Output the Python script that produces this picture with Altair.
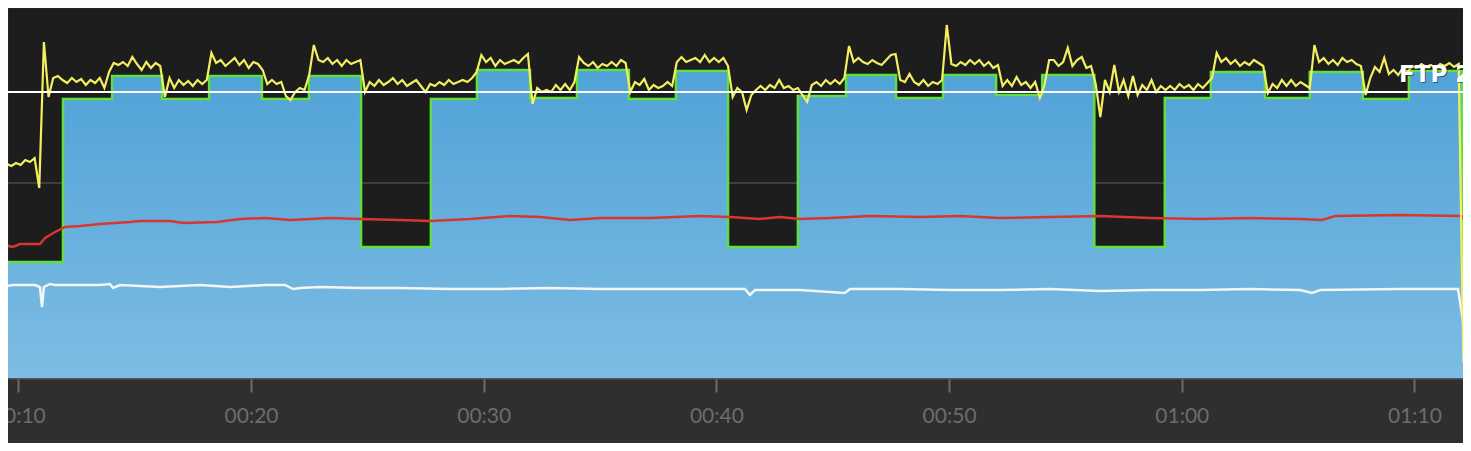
import altair as alt
import numpy as np
import pandas as pd

# ---------------- data ----------------
x_ticks = [10, 20, 30, 40, 50, 60, 70]          # minutes
x_domain = [9.557, 72.085]
y_domain = [0, 370]

ftp = 286
grid_level = 195

# workout target steps: start minute, target watts
step_start = [9.5, 11.92, 14.03, 16.18, 18.20, 20.47, 22.49, 24.73, 27.73, 29.71,
              31.99, 34.01, 36.24, 38.26, 40.50, 43.50, 45.57, 47.72, 49.74, 52.02,
              54.00, 56.24, 59.27, 61.25, 63.57, 65.50, 67.78, 69.76, 72.04, 72.6]
step_watts = [116, 279, 302, 279, 302, 279, 302, 131, 279, 308,
              280, 308, 279, 307, 131, 282, 303, 280, 303, 283,
              303, 131, 280, 306, 280, 306, 279, 307, 113, 113]

# recorded power, one sample every 0.2 min starting at 9.5 min
power_start = 9.5
power_interval = 0.2
power_watts = [
    214, 212, 215, 213, 218, 216, 220, 190, 336, 281,
    300, 302, 298, 295, 300, 296, 299, 293, 298, 295,
    300, 290, 306, 315, 313, 316, 312, 321, 314, 308,
    316, 310, 315, 312, 281, 300, 290, 298, 293, 297,
    292, 298, 294, 298, 325, 315, 318, 312, 316, 320,
    313, 318, 310, 316, 314, 308, 294, 298, 294, 296,
    282, 278, 286, 290, 288, 303, 333, 318, 316, 320,
    314, 318, 312, 318, 314, 316, 318, 286, 296, 292,
    298, 293, 296, 300, 294, 298, 292, 295, 298, 292,
    286, 294, 292, 296, 293, 298, 294, 296, 298, 296,
    300, 306, 323, 316, 320, 312, 318, 314, 316, 318,
    315, 320, 324, 274, 290, 286, 288, 286, 293, 288,
    294, 288, 296, 321, 315, 312, 316, 310, 314, 312,
    316, 312, 318, 315, 286, 296, 293, 299, 288, 293,
    290, 292, 296, 292, 316, 321, 316, 318, 320, 316,
    323, 316, 320, 316, 320, 312, 281, 290, 286, 268,
    283, 288, 292, 288, 293, 290, 298, 290, 292, 288,
    290, 283, 276, 293, 296, 292, 298, 294, 298, 294,
    300, 332, 316, 320, 316, 314, 318, 315, 313, 318,
    323, 324, 298, 296, 304, 296, 293, 298, 292, 296,
    294, 298, 353, 314, 312, 316, 313, 318, 314, 318,
    312, 316, 310, 313, 292, 298, 292, 301, 293, 296,
    290, 296, 280, 293, 318, 318, 312, 316, 330, 312,
    318, 321, 310, 312, 294, 261, 298, 286, 313, 286,
    298, 282, 302, 283, 293, 288, 298, 286, 292, 288,
    292, 288, 294, 290, 293, 288, 294, 290, 295, 300,
    325, 316, 320, 314, 318, 312, 316, 313, 318, 315,
    312, 285, 294, 290, 298, 292, 298, 292, 296, 293,
    290, 333, 316, 320, 314, 318, 313, 320, 316, 318,
    314, 312, 283, 300, 311, 306, 320, 304, 308, 303,
    310, 306, 312, 310, 314, 311, 313, 310, 314, 312,
    315, 311, 314, 16, 13, 15,
]

# heart rate
hr_t = [9.21, 9.77, 10.07, 10.93, 11.15, 11.58, 12.01, 12.65, 13.51, 14.80,
        15.23, 16.52, 17.08, 18.54, 19.53, 20.60, 21.68, 23.39, 24.68, 26.40,
        27.69, 29.41, 31.13, 32.42, 33.71, 35.00, 37.15, 39.29, 40.58, 41.87,
        42.73, 43.59, 44.88, 46.60, 48.75, 50.47, 52.19, 54.34, 56.49, 58.64,
        60.79, 62.94, 65.09, 66.03, 66.59, 69.38, 72.04, 72.43]
hr_bpm = [134, 131, 134, 134, 140, 146, 151, 152, 154, 156,
          157, 157, 155, 156, 159, 160, 158, 160, 159, 158,
          157, 159, 162, 161, 158, 160, 160, 162, 161, 159,
          161, 159, 160, 162, 161, 162, 160, 161, 162, 160,
          159, 160, 159, 158, 162, 163, 162, 147]

# cadence
cad_t = [9.21, 9.77, 10.72, 10.93, 11.02, 11.10, 11.36, 11.58, 12.65, 13.51,
         13.94, 14.07, 14.37, 16.09, 17.81, 19.10, 20.60, 21.46, 21.81, 22.11,
         22.96, 24.68, 26.40, 28.55, 30.70, 32.85, 35.00, 37.15, 39.29, 41.23,
         41.44, 41.66, 43.59, 45.52, 45.74, 47.89, 50.04, 52.19, 54.34, 56.49,
         58.64, 60.79, 62.94, 65.09, 65.60, 65.95, 69.38, 71.87, 72.08, 72.21,
         72.43]
cad_rpm = [91, 93, 93, 91, 71, 91, 94, 93, 93, 93,
           94, 90, 93, 91, 93, 91, 93, 93, 89, 90,
           91, 90, 90, 89, 89, 90, 89, 89, 89, 89,
           83, 88, 88, 85, 89, 89, 88, 88, 89, 87,
           88, 88, 89, 88, 85, 88, 89, 89, 58, 21,
           21]

# ---------------- frames ----------------
power_t = power_start + power_interval * np.arange(len(power_watts))
df_power = pd.DataFrame({"t": power_t, "v": power_watts})
df_steps = pd.DataFrame({"t": step_start, "v": step_watts})
df_hr = pd.DataFrame({"t": hr_t, "v": hr_bpm})
df_cad = pd.DataFrame({"t": cad_t, "v": cad_rpm})
df_ftp = pd.DataFrame({"v": [ftp], "label": [f"FTP {ftp}"]})
df_grid = pd.DataFrame({"v": [grid_level]})

label_expr = ("(floor(datum.value/60) < 10 ? '0' : '') + floor(datum.value/60) + ':' + "
              "((datum.value % 60) < 10 ? '0' : '') + (datum.value % 60)")

X = alt.X("t:Q",
          scale=alt.Scale(domain=x_domain, nice=False, zero=False),
          axis=alt.Axis(values=x_ticks, labelExpr=label_expr, title=None, grid=False,
                        domainColor="#565656", domainWidth=2,
                        tickColor="#6c6c6c", tickSize=14, tickWidth=2,
                        labelColor="#6c6c6c", labelFontSize=21, labelFont="Lato",
                        labelPadding=13, labelFlush=False, labelOverlap=False))
Y = alt.Y("v:Q", scale=alt.Scale(domain=y_domain, nice=False, zero=False), axis=None)

blue = alt.Gradient(gradient="linear",
                    stops=[alt.GradientStop(color="#50a2d8", offset=0),
                           alt.GradientStop(color="#7dbde3", offset=1)],
                    x1=1, x2=1, y1=0, y2=1)

grid = alt.Chart(df_grid).mark_rule(color="#4a4a4a", strokeWidth=1.5).encode(y=Y)
area = alt.Chart(df_steps).mark_area(interpolate="step-after", color=blue, clip=True).encode(x=X, y=Y)
outline = alt.Chart(df_steps).mark_line(interpolate="step-after", color="#5fe03e",
                                        strokeWidth=2.5, clip=True).encode(x=X, y=Y)
hr = alt.Chart(df_hr).mark_line(color="#d8372f", strokeWidth=2.5, clip=True).encode(x=X, y=Y)
cad = alt.Chart(df_cad).mark_line(color="#f5f5f5", strokeWidth=2.5, clip=True).encode(x=X, y=Y)
power = alt.Chart(df_power).mark_line(color="#f3ef5e", strokeWidth=2.2, clip=True).encode(x=X, y=Y)
ftp_rule = alt.Chart(df_ftp).mark_rule(color="#ffffff", strokeWidth=2).encode(y=Y)
ftp_shadow = alt.Chart(df_ftp).mark_text(
    align="left", baseline="alphabetic", dx=1, dy=-9, font="DejaVu Sans", fontSize=23,
    fontWeight="bold", color="#000000", opacity=0.45, clip=True
).encode(x=alt.value(1391), y=Y, text="label:N")
ftp_text = alt.Chart(df_ftp).mark_text(
    align="left", baseline="alphabetic", dy=-10, font="DejaVu Sans", fontSize=23,
    fontWeight="bold", color="#ffffff", clip=True
).encode(x=alt.value(1391), y=Y, text="label:N")

chart = alt.layer(grid, area, outline, hr, cad, power, ftp_rule, ftp_shadow, ftp_text).properties(
    width=1455, height=370,
    autosize=alt.AutoSizeParams(type="none"),
    padding={"left": 0, "right": 0, "top": 0, "bottom": 65},
    background="#2f2f2f",
).configure_view(fill="#1d1d1d", stroke="transparent")

chart.save("out.html", embed_options={"renderer": "svg", "actions": False})
